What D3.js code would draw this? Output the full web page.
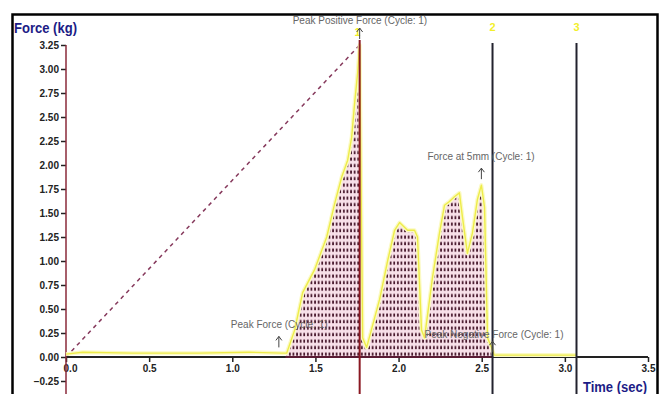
<!DOCTYPE html>
<html>
<head>
<meta charset="utf-8">
<script src="https://cdn.jsdelivr.net/npm/d3@7"></script>
<style>
  body { margin: 0; background: #fff; }
  svg { display: block; font-family: "Liberation Sans", Arial, sans-serif; }
  .axis text { font-size: 10px; fill: #222; font-weight: bold; font-family: "Liberation Sans", Arial, sans-serif; }
  .note { font-size: 10px; fill: #666; }
  .title { font-size: 14px; font-weight: bold; fill: #1c1c86; }
  .marker { font-size: 11px; font-weight: bold; fill: #f2ef2a; }
</style>
</head>
<body>
<svg id="chart" width="664" height="394"></svg>
<script>
// tick values
var timeTicks = [0, 0.5, 1.0, 1.5, 2.0, 2.5, 3.0, 3.5];
var forceTicks = [-0.25, 0, 0.25, 0.5, 0.75, 1.0, 1.25, 1.5, 1.75, 2.0, 2.25, 2.5, 2.75, 3.0, 3.25];

// force trace
var curveTime = [0, 0.1, 0.4, 0.8, 1.1, 1.3, 1.327, 1.375, 1.423, 1.495, 1.568, 1.616, 1.658, 1.694, 1.718, 1.736, 1.754, 1.766,
                 1.784, 1.808, 1.886, 1.934, 1.976, 2.006, 2.054, 2.096, 2.114, 2.138, 2.156, 2.204, 2.246, 2.276, 2.306,
                 2.336, 2.366, 2.384, 2.414, 2.444, 2.474, 2.498, 2.517, 2.535, 2.559, 2.575, 2.8, 3.07];
var curveForce = [0.03, 0.05, 0.04, 0.04, 0.05, 0.04, 0.04, 0.28, 0.67, 0.91, 1.25, 1.60, 1.875, 2.05, 2.29, 2.65, 2.96, 3.25,
                  0.2, 0.1, 0.6, 1.0, 1.32, 1.40, 1.32, 1.32, 1.25, 0.28, 0.2, 0.83, 1.29, 1.58, 1.62,
                  1.67, 1.71, 1.46, 1.08, 1.29, 1.64, 1.79, 1.56, 0.2, 0.1, 0.02, 0.02, 0.02];

// dashed reference line
var dashTime = [0, 1.766];
var dashForce = [0, 3.25];

// cycle markers
var markerTimes = [1.766, 2.565, 3.07];
var markerLabels = ["1", "2", "3"];

// annotations
var noteLabels = ["Peak Positive Force (Cycle: 1)", "Force at 5mm (Cycle: 1)", "Peak Force (Cycle: 1)", "Peak Negative Force (Cycle: 1)"];
var noteTime = [1.766, 2.498, 1.28, 2.565];
var noteForce = [3.25, 1.79, 0.1, 0.05];

var svg = d3.select("#chart");

var x = d3.scaleLinear().domain([0, 3.5]).range([66, 648]);
var y = d3.scaleLinear().domain([0, 3.25]).range([357, 45]);

var curve = curveTime.map(function(t, i) { return {t: t, v: curveForce[i]}; });
var filled = curve.filter(function(d) { return d.t >= 1.32 && d.t <= 2.56; });

// hatch pattern
var pat = svg.append("defs").append("pattern")
    .attr("id", "hatch")
    .attr("patternUnits", "userSpaceOnUse")
    .attr("width", 3.6)
    .attr("height", 6.5);
pat.append("rect").attr("width", 3.6).attr("height", 6.5).attr("fill", "#f8e0e9");
pat.append("rect").attr("x", 1).attr("y", 1.5).attr("width", 1.7).attr("height", 3.2).attr("fill", "#45152a");

// frame
svg.append("rect")
    .attr("x", 12.5).attr("y", 14.5)
    .attr("width", 645).attr("height", 400)
    .attr("fill", "none").attr("stroke", "#000").attr("stroke-width", 2.5);

// filled area
var area = d3.area()
    .x(function(d) { return x(d.t); })
    .y0(y(0))
    .y1(function(d) { return y(d.v); });

svg.append("path")
    .datum(filled)
    .attr("d", area)
    .attr("fill", "url(#hatch)");

// dashed line
svg.append("path")
    .datum(dashTime.map(function(t, i) { return [x(t), y(dashForce[i])]; }))
    .attr("d", d3.line())
    .attr("stroke", "#86395c")
    .attr("stroke-width", 1.5)
    .attr("stroke-dasharray", "4,4")
    .attr("fill", "none");

// x axis
var xAxis = svg.append("g")
    .attr("class", "axis")
    .attr("transform", "translate(0," + y(0) + ")")
    .call(d3.axisBottom(x).tickValues(timeTicks).tickSize(5).tickPadding(3).tickFormat(d3.format(".1f")));
xAxis.select(".domain").remove();
xAxis.selectAll(".tick line").attr("stroke", "#222").attr("stroke-width", 1.5);
xAxis.selectAll(".tick text").filter(function(d) { return d === 0; }).attr("dx", 4);
svg.append("line")
    .attr("x1", x(0)).attr("x2", x(3.5))
    .attr("y1", y(0)).attr("y2", y(0))
    .attr("stroke", "#222").attr("stroke-width", 2);
svg.append("line")
    .attr("x1", x(1.32)).attr("x2", x(2.56))
    .attr("y1", y(0)).attr("y2", y(0))
    .attr("stroke", "#5a1c34").attr("stroke-width", 2);

// y axis
var yAxis = svg.append("g")
    .attr("class", "axis")
    .attr("transform", "translate(" + x(0) + ",0)")
    .call(d3.axisLeft(y).tickValues(forceTicks).tickSize(5).tickPadding(2).tickFormat(d3.format(".2f")));
yAxis.select(".domain").remove();
yAxis.selectAll(".tick line").attr("stroke", "#222").attr("stroke-width", 1.5);
svg.append("line")
    .attr("x1", x(0)).attr("x2", x(0))
    .attr("y1", y(3.25)).attr("y2", 394)
    .attr("stroke", "#8a2a3a").attr("stroke-width", 1.5);

// yellow trace
var line = d3.line()
    .x(function(d) { return x(d.t); })
    .y(function(d) { return y(d.v); });

svg.append("path")
    .datum(curve)
    .attr("d", line)
    .attr("fill", "none")
    .attr("stroke", "#fbfac4")
    .attr("stroke-width", 4)
    .attr("stroke-linejoin", "round");
svg.append("path")
    .datum(curve)
    .attr("d", line)
    .attr("fill", "none")
    .attr("stroke", "#eeec4a")
    .attr("stroke-width", 1.4)
    .attr("stroke-linejoin", "round");

// cycle marker lines
markerTimes.forEach(function(t, i) {
  svg.append("line")
      .attr("x1", x(t)).attr("x2", x(t))
      .attr("y1", i === 0 ? 40 : 43).attr("y2", 394)
      .attr("stroke", i === 0 ? "#8a1822" : "#22222e")
      .attr("stroke-width", 2);
  svg.append("text")
      .attr("class", "marker")
      .attr("x", x(t) + (i === 0 ? -2 : 0))
      .attr("y", i === 0 ? 36 : 31)
      .attr("text-anchor", "middle")
      .text(markerLabels[i]);
});

// annotations with arrows
var noteOffsets = [[-67, -15], [-54, -19], [-48, -19], [-68, -14]];
var arrowGap = [6, 6, 0, 0];
noteLabels.forEach(function(label, i) {
  var ax = x(noteTime[i]), ay = y(noteForce[i]) - arrowGap[i];
  var top = ay - 11;
  svg.append("path")
      .attr("d", "M" + ax + "," + ay + "V" + top + "M" + (ax - 3) + "," + (top + 4) + "L" + ax + "," + top + "L" + (ax + 3) + "," + (top + 4))
      .attr("fill", "none")
      .attr("stroke", "#444")
      .attr("stroke-width", 1);
  svg.append("text")
      .attr("class", "note")
      .attr("x", ax + noteOffsets[i][0])
      .attr("y", ay + noteOffsets[i][1])
      .text(label);
});

// axis titles
svg.append("text").attr("class", "title").attr("x", 14).attr("y", 33)
    .attr("textLength", 63).attr("lengthAdjust", "spacingAndGlyphs").text("Force (kg)");
svg.append("text").attr("class", "title").attr("x", 583).attr("y", 392)
    .attr("textLength", 64).attr("lengthAdjust", "spacingAndGlyphs").text("Time (sec)");
</script>
</body>
</html>
